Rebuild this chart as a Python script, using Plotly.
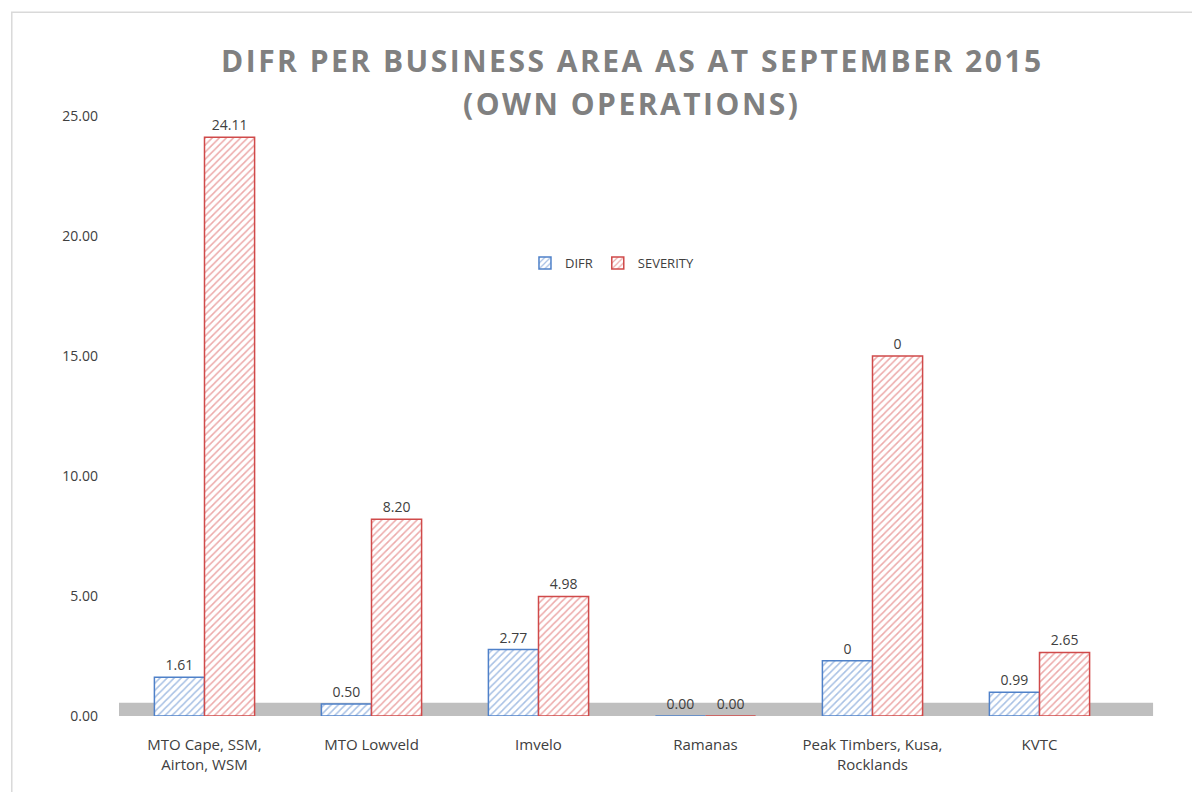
import plotly.graph_objects as go

categories = ["MTO Cape, SSM,<br>Airton, WSM", "MTO Lowveld", "Imvelo", "Ramanas",
              "Peak Timbers, Kusa,<br>Rocklands", "KVTC"]
difr_values = [1.61, 0.50, 2.77, 0.00, 2.30, 0.99]
difr_labels = ["1.61", "0.50", "2.77", "0.00", "0", "0.99"]
severity_values = [24.11, 8.20, 4.98, 0.00, 15.00, 2.65]
severity_labels = ["24.11", "8.20", "4.98", "0.00", "0", "2.65"]
y_ticks = [0, 5, 10, 15, 20, 25]

fig = go.Figure()
fig.add_trace(go.Bar(
    name="DIFR", x=categories, y=difr_values, text=difr_labels,
    textposition="outside", cliponaxis=False,
    textfont=dict(size=14, color="#404040"),
    marker=dict(color="#ffffff", line=dict(color="#4f81c9", width=1.5),
                pattern=dict(shape="/", fgcolor="#4f81c9", bgcolor="#ffffff", size=5, solidity=0.3)),
))
fig.add_trace(go.Bar(
    name="SEVERITY", x=categories, y=severity_values, text=severity_labels,
    textposition="outside", cliponaxis=False,
    textfont=dict(size=14, color="#404040"),
    marker=dict(color="#ffffff", line=dict(color="#d04a4a", width=1.5),
                pattern=dict(shape="/", fgcolor="#d95555", bgcolor="#ffffff", size=5, solidity=0.3)),
))

# grey floor
fig.add_shape(type="rect", xref="paper", yref="y", x0=-0.002, x1=1.03, y0=0, y1=0.55,
              fillcolor="#bfbfbf", line=dict(width=0), layer="below")
# chart border
fig.add_shape(type="rect", xref="paper", yref="paper", x0=-0.109, x1=1.2, y0=-0.2, y1=1.173,
              fillcolor="rgba(0,0,0,0)", line=dict(color="#d9d9d9", width=1.5), layer="below")

title_style = "letter-spacing:2.5px"
fig.add_annotation(text=f"<span style='{title_style}'>DIFR PER BUSINESS AREA AS AT SEPTEMBER 2015</span>",
                   xref="paper", yref="paper", x=0.51, y=(716 - 60) / 600, yanchor="middle", showarrow=False,
                   font=dict(family="Open Sans", size=30, color="#808080", weight="bold"))
fig.add_annotation(text=f"<span style='{title_style}'>(OWN OPERATIONS)</span>",
                   xref="paper", yref="paper", x=0.51, y=(716 - 104) / 600, yanchor="middle", showarrow=False,
                   font=dict(family="Open Sans", size=30, color="#808080", weight="bold"))

fig.update_layout(
    width=1192, height=784,
    margin=dict(l=113, r=77, t=108, b=76),
    paper_bgcolor="white", plot_bgcolor="white",
    barmode="group", bargap=0.4, bargroupgap=0,
    font=dict(family="Open Sans", color="#404040"),
    legend=dict(orientation="h", x=0.49, xanchor="center", y=(716 - 263) / 600, yanchor="middle",
                font=dict(size=13, color="#404040"), itemwidth=30, bgcolor="rgba(0,0,0,0)"),
    xaxis=dict(showline=False, tickfont=dict(size=15, color="#404040"), ticks="",
               ticklabelstandoff=18),
    yaxis=dict(range=[0, 25], tickvals=y_ticks, tickformat=".2f", showgrid=False, zeroline=False,
               showline=False, tickfont=dict(size=14, color="#404040"), ticklabelstandoff=22),
)

fig.write_html("out.html")
